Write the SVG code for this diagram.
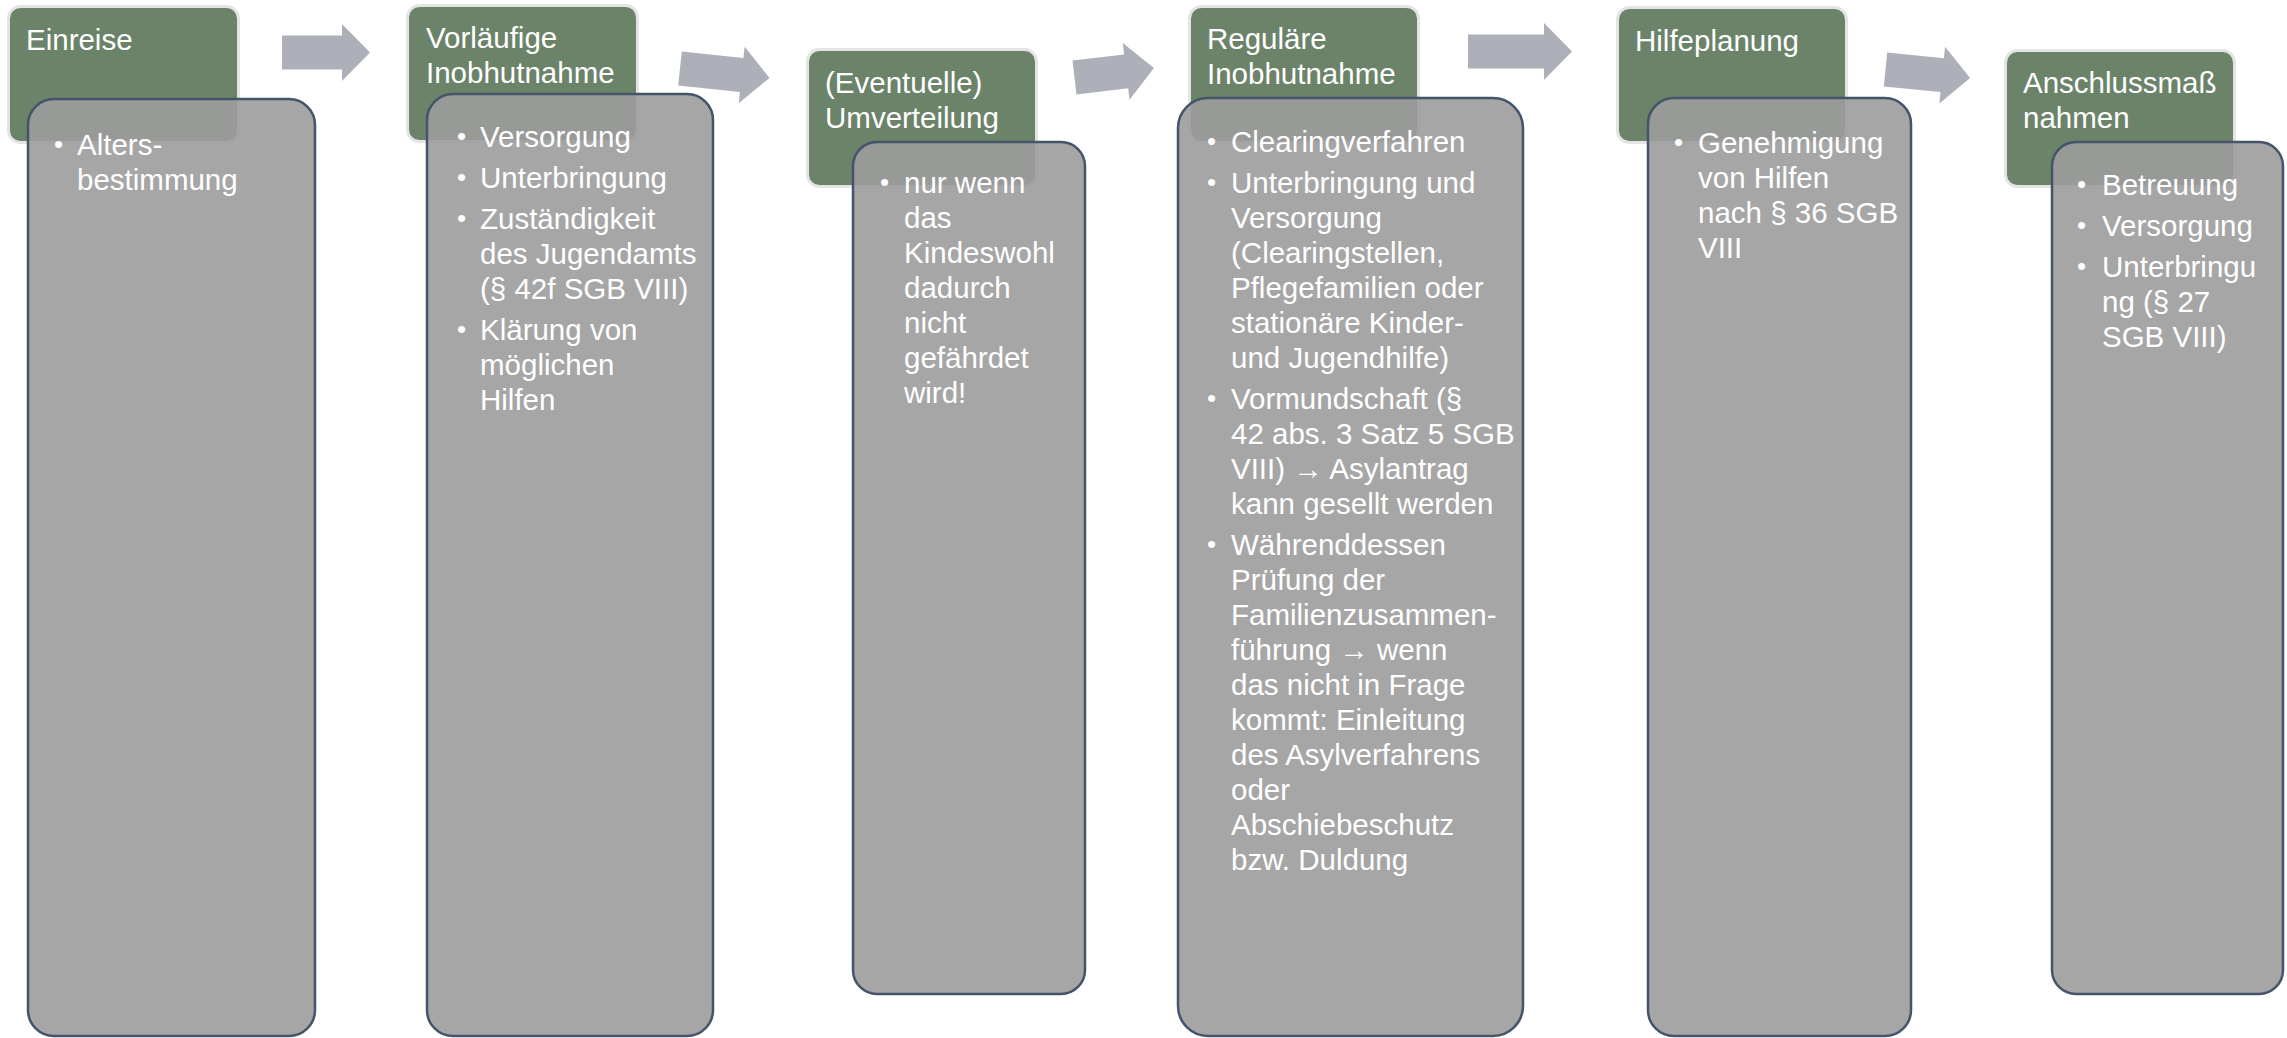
<svg xmlns="http://www.w3.org/2000/svg" width="2287" height="1038" viewBox="0 0 2287 1038">
<style>
.hdr{fill:#6b8369;stroke:#e4e4e4;stroke-width:3}
.body{fill:#9c9c9c;fill-opacity:0.9;stroke:#44546a;stroke-width:2.5}
.arr{fill:#adb0b8}
text{font-family:"Liberation Sans",Arial,sans-serif;font-size:29.5px;fill:#ffffff}
.b{font-size:26px}
</style>
<rect width="2287" height="1038" fill="#ffffff"/>
<g id="connectors">
<polygon class="arr" transform="translate(282,52.5)" points="0,-17 60,-17 60,-28.5 88,0 60,28.5 60,17 0,17"/>
<polygon class="arr" transform="translate(680,68.5) rotate(6)" points="0,-17 62,-17 62,-28.5 90,0 62,28.5 62,17 0,17"/>
<polygon class="arr" transform="translate(1074.5,77.5) rotate(-6.8)" points="0,-17 52,-17 52,-28.5 80,0 52,28.5 52,17 0,17"/>
<polygon class="arr" transform="translate(1468,51.5)" points="0,-17 76,-17 76,-28.5 104,0 76,28.5 76,17 0,17"/>
<polygon class="arr" transform="translate(1885.5,69.5) rotate(5.7)" points="0,-17 57,-17 57,-28.5 85,0 57,28.5 57,17 0,17"/>
</g>
<g id="node-einreise">
<rect class="hdr" x="8.5" y="6.5" width="230" height="136" rx="12"/>
<text x="26" y="50">Einreise</text>
<rect class="body" x="28" y="99" width="287" height="937" rx="26"/>
<text class="b" x="54" y="153">•</text>
<text x="77" y="155">Alters-</text>
<text x="77" y="190">bestimmung</text>
</g>
<g id="node-vorlaeufige">
<rect class="hdr" x="407.5" y="5.5" width="230" height="136" rx="12"/>
<text x="426" y="48">Vorläufige</text>
<text x="426" y="83">Inobhutnahme</text>
<rect class="body" x="427" y="94" width="286" height="942" rx="26"/>
<text class="b" x="457" y="145">•</text>
<text x="480" y="147">Versorgung</text>
<text class="b" x="457" y="186">•</text>
<text x="480" y="188">Unterbringung</text>
<text class="b" x="457" y="227">•</text>
<text x="480" y="229">Zuständigkeit</text>
<text x="480" y="264">des Jugendamts</text>
<text x="480" y="299">(§ 42f SGB VIII)</text>
<text class="b" x="457" y="338">•</text>
<text x="480" y="340">Klärung von</text>
<text x="480" y="375">möglichen</text>
<text x="480" y="410">Hilfen</text>
</g>
<g id="node-umverteilung">
<rect class="hdr" x="807.5" y="49.5" width="229" height="137" rx="12"/>
<text x="825" y="93">(Eventuelle)</text>
<text x="825" y="128">Umverteilung</text>
<rect class="body" x="853" y="142" width="232" height="852" rx="24"/>
<text class="b" x="880" y="191">•</text>
<text x="904" y="193">nur wenn</text>
<text x="904" y="228">das</text>
<text x="904" y="263">Kindeswohl</text>
<text x="904" y="298">dadurch</text>
<text x="904" y="333">nicht</text>
<text x="904" y="368">gefährdet</text>
<text x="904" y="403">wird!</text>
</g>
<g id="node-regulaere">
<rect class="hdr" x="1189.5" y="6.5" width="229" height="136" rx="12"/>
<text x="1207" y="49">Reguläre</text>
<text x="1207" y="84">Inobhutnahme</text>
<rect class="body" x="1178" y="98" width="345" height="938" rx="30"/>
<text class="b" x="1207" y="150">•</text>
<text x="1231" y="152">Clearingverfahren</text>
<text class="b" x="1207" y="191">•</text>
<text x="1231" y="193">Unterbringung und</text>
<text x="1231" y="228">Versorgung</text>
<text x="1231" y="263">(Clearingstellen,</text>
<text x="1231" y="298">Pflegefamilien oder</text>
<text x="1231" y="333">stationäre Kinder-</text>
<text x="1231" y="368">und Jugendhilfe)</text>
<text class="b" x="1207" y="407">•</text>
<text x="1231" y="409">Vormundschaft (§</text>
<text x="1231" y="444">42 abs. 3 Satz 5 SGB</text>
<text x="1231" y="479">VIII) → Asylantrag</text>
<text x="1231" y="514">kann gesellt werden</text>
<text class="b" x="1207" y="553">•</text>
<text x="1231" y="555">Währenddessen</text>
<text x="1231" y="590">Prüfung der</text>
<text x="1231" y="625">Familienzusammen-</text>
<text x="1231" y="660">führung → wenn</text>
<text x="1231" y="695">das nicht in Frage</text>
<text x="1231" y="730">kommt: Einleitung</text>
<text x="1231" y="765">des Asylverfahrens</text>
<text x="1231" y="800">oder</text>
<text x="1231" y="835">Abschiebeschutz</text>
<text x="1231" y="870">bzw. Duldung</text>
</g>
<g id="node-hilfeplanung">
<rect class="hdr" x="1617.5" y="7.5" width="229" height="135" rx="12"/>
<text x="1635" y="51">Hilfeplanung</text>
<rect class="body" x="1648" y="98" width="263" height="938" rx="26"/>
<text class="b" x="1674" y="151">•</text>
<text x="1698" y="153">Genehmigung</text>
<text x="1698" y="188">von Hilfen</text>
<text x="1698" y="223">nach § 36 SGB</text>
<text x="1698" y="258">VIII</text>
</g>
<g id="node-anschluss">
<rect class="hdr" x="2005.5" y="50.5" width="229" height="136" rx="12"/>
<text x="2023" y="93">Anschlussmaß</text>
<text x="2023" y="128">nahmen</text>
<rect class="body" x="2052" y="142" width="231" height="852" rx="24"/>
<text class="b" x="2077" y="193">•</text>
<text x="2102" y="195">Betreuung</text>
<text class="b" x="2077" y="234">•</text>
<text x="2102" y="236">Versorgung</text>
<text class="b" x="2077" y="275">•</text>
<text x="2102" y="277">Unterbringu</text>
<text x="2102" y="312">ng (§ 27</text>
<text x="2102" y="347">SGB VIII)</text>
</g>
</svg>
